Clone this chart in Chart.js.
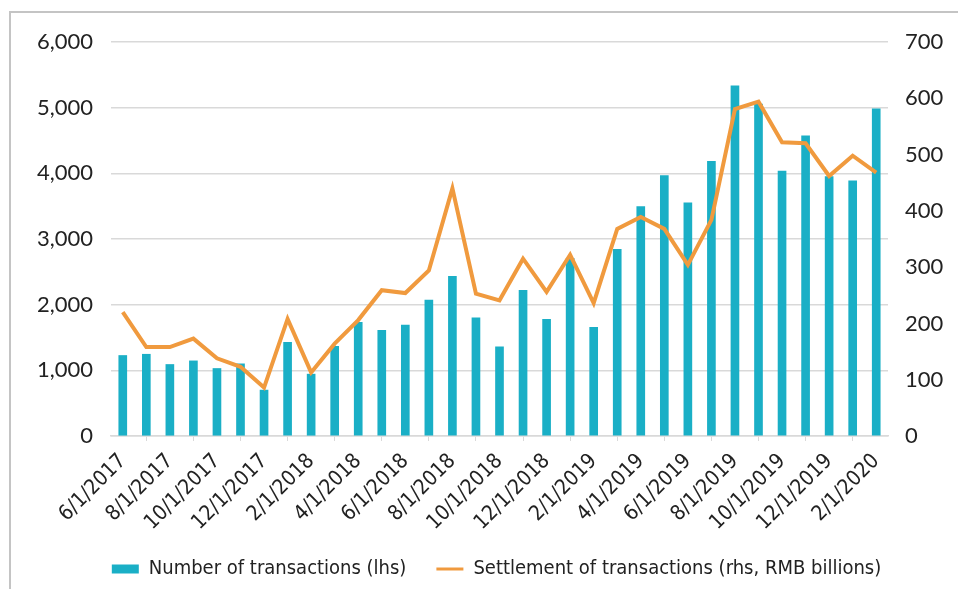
<!DOCTYPE html>
<html lang="en">
<head>
  <meta charset="UTF-8">
  <title>Transactions</title>
  <script src="https://cdn.jsdelivr.net/npm/chart.js"></script>
  <style>
    html, body { margin: 0; padding: 0; background: #fff; }
    #frame {
      position: absolute; left: 9px; top: 11px; width: 947px; height: 576px;
      border-left: 2px solid #c4c4c4; border-top: 2px solid #c4c4c4;
    }
  </style>
</head>
<body>
  <div id="frame"><canvas id="txChart"></canvas></div>

  <script>
    const months = [
      '6/1/2017', '7/1/2017', '8/1/2017', '9/1/2017', '10/1/2017', '11/1/2017', '12/1/2017',
      '1/1/2018', '2/1/2018', '3/1/2018', '4/1/2018', '5/1/2018', '6/1/2018', '7/1/2018',
      '8/1/2018', '9/1/2018', '10/1/2018', '11/1/2018', '12/1/2018', '1/1/2019', '2/1/2019',
      '3/1/2019', '4/1/2019', '5/1/2019', '6/1/2019', '7/1/2019', '8/1/2019', '9/1/2019',
      '10/1/2019', '11/1/2019', '12/1/2019', '1/1/2020', '2/1/2020'
    ];
    const transactions = [
      1226, 1245, 1089, 1144, 1028, 1099, 699, 1428, 942, 1367, 1732, 1610, 1691, 2071,
      2431, 1798, 1357, 2218, 1777, 2704, 1656, 2841, 3494, 3965, 3549, 4182, 5332, 5053,
      4035, 4572, 3949, 3884, 4983
    ];
    const settlement = [
      220, 158, 158, 173, 138, 123, 86, 208, 113, 164, 206, 259, 254, 294,
      440, 253, 241, 315, 256, 322, 236, 368, 389, 368, 304, 384, 581, 594,
      522, 520, 462, 498, 468
    ];

    const narrow = "'Liberation Sans Narrow', 'DejaVu Sans Condensed', sans-serif";
    const textColor = '#222222';
    const gridColor = '#d9d9d9';

    // nudge the legend so it sits centred under the plot, like the original
    const legendShift = {
      id: 'legendShift',
      afterLayout(c) {
        if (c.legend) {
          c.legend.left += 12;
          c.legend.right += 12;
        }
      }
    };

    const ctx = document.getElementById('txChart').getContext('2d');
    const chart = new Chart(ctx, {
      type: 'bar',
      data: {
        labels: months,
        datasets: [
          {
            type: 'line',
            label: 'Settlement of transactions (rhs, RMB billions)',
            data: settlement,
            yAxisID: 'y2',
            borderColor: '#f09a3e',
            backgroundColor: '#f09a3e',
            borderWidth: 4,
            pointRadius: 0,
            tension: 0,
            order: 0
          },
          {
            label: 'Number of transactions (lhs)',
            data: transactions,
            yAxisID: 'y',
            backgroundColor: '#1aafc6',
            barThickness: 8,
            order: 1
          }
        ]
      },
      plugins: [legendShift],
      options: {
        responsive: true,
        maintainAspectRatio: false,
        animation: false,
        layout: { padding: { top: 14, left: 0, right: 0, bottom: 0 } },
        plugins: {
          tooltip: { enabled: false },
          legend: {
            position: 'bottom',
            reverse: true,
            labels: {
              usePointStyle: true,
              pointStyleWidth: 27,
              boxHeight: 9,
              padding: 30,
              color: textColor,
              font: { family: narrow, size: 20 },
              generateLabels(c) {
                const items = Chart.defaults.plugins.legend.labels.generateLabels(c);
                items.forEach(it => {
                  const ds = c.data.datasets[it.datasetIndex];
                  if (ds.type === 'line') {
                    it.pointStyle = 'line';
                    it.lineWidth = 3;
                    it.strokeStyle = ds.borderColor;
                  } else {
                    it.pointStyle = 'rect';
                    it.lineWidth = 0;
                  }
                });
                return items;
              }
            }
          }
        },
        scales: {
          x: {
            offset: true,
            grid: {
              offset: true,
              drawOnChartArea: false,
              drawTicks: true,
              tickLength: 5,
              color: gridColor
            },
            border: { color: gridColor, width: 1.5 },
            ticks: {
              autoSkip: false,
              minRotation: 45,
              maxRotation: 45,
              padding: 8,
              color: textColor,
              font: { family: narrow, size: 21 },
              callback(value, index) {
                return index % 2 === 0 ? months[index] : null;
              }
            },
            afterFit(scale) { scale.height = 93; }
          },
          y: {
            position: 'left',
            min: 0,
            max: 6000,
            ticks: {
              stepSize: 1000,
              padding: 18,
              color: textColor,
              font: { family: 'Lato, sans-serif', size: 22, lineHeight: 1 },
              callback: v => v.toLocaleString('en-US')
            },
            grid: { color: gridColor, lineWidth: 1.5, drawTicks: false },
            border: { display: false },
            afterFit(scale) { scale.width = 100; }
          },
          y2: {
            position: 'right',
            min: 0,
            max: 700,
            ticks: {
              stepSize: 100,
              padding: 17,
              color: textColor,
              font: { family: 'Lato, sans-serif', size: 22, lineHeight: 1 }
            },
            grid: { drawOnChartArea: false, drawTicks: false },
            border: { display: false },
            afterFit(scale) { scale.width = 70; }
          }
        }
      }
    });
  </script>
</body>
</html>
